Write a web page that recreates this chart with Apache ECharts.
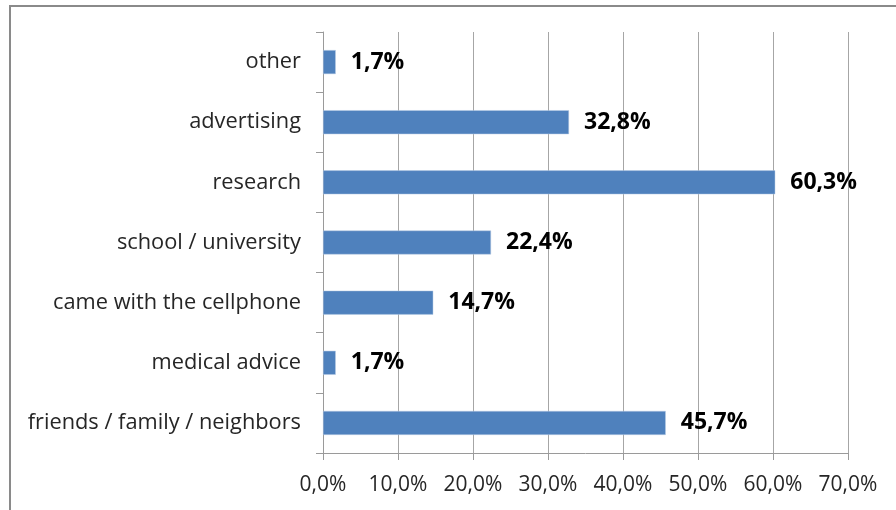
<!DOCTYPE html>
<html>
<head>
<meta charset="utf-8">
<script src="https://cdn.jsdelivr.net/npm/echarts@6/dist/echarts.min.js"></script>
<style>
  html, body { margin: 0; padding: 0; background: #fff; }
  #chart { width: 896px; height: 510px; }
</style>
</head>
<body>
<div id="chart"></div>
<script>
// How respondents learned about the app (share of answers, %)
const categories = [
  'friends / family / neighbors',
  'medical advice',
  'came with the cellphone',
  'school / university',
  'research',
  'advertising',
  'other'
];
const shares = [45.7, 1.7, 14.7, 22.4, 60.3, 32.8, 1.7];
const axisTicks = [0, 10, 20, 30, 40, 50, 60, 70];

const fmt = v => v.toFixed(1).replace('.', ',') + '%';
const FONT = '"Open Sans", "Noto Sans", sans-serif';

const chart = echarts.init(document.getElementById('chart'), null, { renderer: 'canvas' });
chart.setOption({
  animation: false,
  backgroundColor: '#fff',
  graphic: [{
    type: 'rect',
    shape: { x: 10, y: 6, width: 900, height: 520 },
    style: { fill: 'none', stroke: '#8a8a8a', lineWidth: 2 },
    silent: true
  }],
  grid: { left: 323, right: 48, top: 32, bottom: 57, containLabel: false },
  xAxis: {
    type: 'value',
    min: axisTicks[0],
    max: axisTicks[axisTicks.length - 1],
    interval: 10,
    axisLine: { show: true, lineStyle: { color: '#9a9a9a', width: 1 } },
    axisTick: { show: true, length: 7, lineStyle: { color: '#9a9a9a' } },
    splitLine: { show: true, lineStyle: { color: '#a6a6a6', width: 1 } },
    axisLabel: {
      margin: 22,
      color: '#262626',
      fontFamily: FONT,
      fontSize: 21,
      formatter: v => fmt(v)
    }
  },
  yAxis: {
    type: 'category',
    data: categories,
    axisLine: { show: true, lineStyle: { color: '#9a9a9a', width: 1 } },
    axisTick: { show: true, length: 7, alignWithLabel: false, lineStyle: { color: '#9a9a9a' } },
    splitLine: { show: false },
    axisLabel: {
      margin: 22,
      color: '#262626',
      fontFamily: FONT,
      fontSize: 21.8,
      padding: [5, 0, 0, 0]
    }
  },
  series: [{
    type: 'bar',
    data: shares,
    barWidth: 24,
    itemStyle: { color: '#4F81BD', borderColor: '#b9cde5', borderWidth: 0.5 },
    label: {
      show: true,
      position: 'right',
      distance: 15,
      color: '#000',
      fontFamily: FONT,
      fontWeight: 'bold',
      fontSize: 23,
      padding: [5, 0, 0, 0],
      formatter: p => fmt(p.value)
    }
  }]
});
</script>
</body>
</html>
